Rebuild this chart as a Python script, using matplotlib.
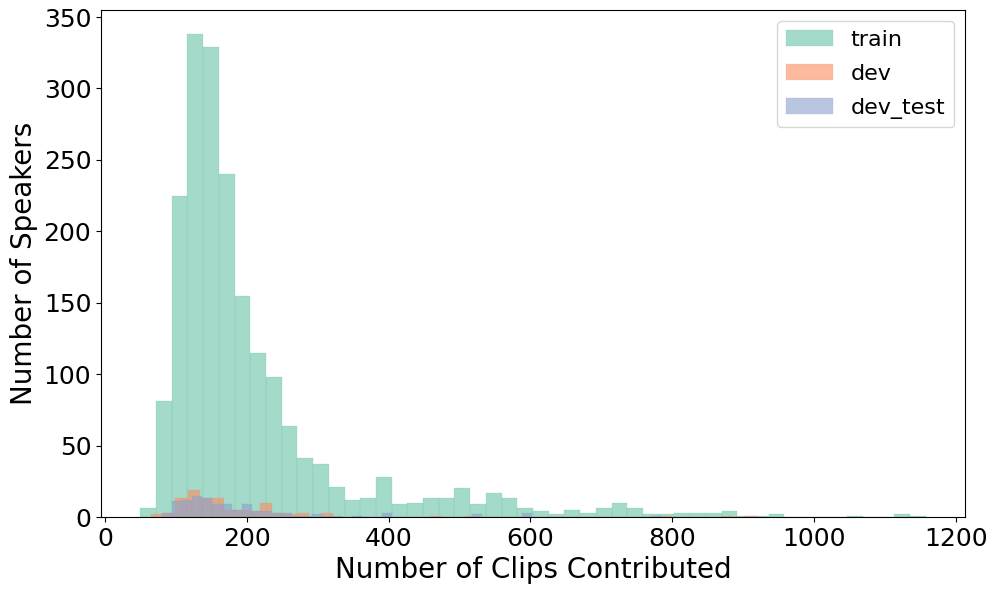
import numpy as np
import matplotlib
matplotlib.use("Agg")
import matplotlib.pyplot as plt

# speakers per bin (50 bins each)
train_range = (49.5, 1158.0)
train_counts = [6, 81, 225, 338, 329, 240, 155, 115, 98, 64,
                41, 37, 21, 12, 13, 28, 9, 10, 13, 13,
                20, 9, 17, 13, 6, 4, 2, 5, 3, 6,
                10, 6, 2, 2, 3, 3, 3, 4, 1, 1,
                2, 0, 0, 0, 0, 1, 0, 0, 2, 1]

dev_range = (65.0, 920.0)
dev_counts = [2, 3, 13, 19, 13, 13, 5, 5, 4, 10,
              3, 2, 3, 0, 3, 0, 0, 0, 0, 0,
              0, 0, 0, 1, 0, 0, 1, 0, 0, 0,
              0, 0, 0, 0, 0, 0, 0, 0, 0, 0,
              0, 0, 1, 0, 0, 0, 0, 1, 0, 1]

dev_test_range = (80.0, 785.0)
dev_test_counts = [3, 11, 12, 15, 13, 9, 9, 5, 9, 4,
                   4, 3, 3, 1, 1, 2, 1, 1, 0, 1,
                   0, 0, 3, 0, 0, 0, 0, 0, 0, 0,
                   0, 2, 0, 0, 0, 0, 3, 0, 0, 0,
                   0, 0, 0, 0, 0, 0, 0, 0, 0, 1]

series = [("train", train_range, train_counts, "#66c2a5"),
          ("dev", dev_range, dev_counts, "#fc8d62"),
          ("dev_test", dev_test_range, dev_test_counts, "#8da0cb")]

fig = plt.figure(figsize=(9.97, 5.94), dpi=100)
ax = fig.add_axes([0.1013, 0.1296, 0.8667, 0.8535])

for name, (lo, hi), counts, color in series:
    edges = np.linspace(lo, hi, len(counts) + 1)
    centers = (edges[:-1] + edges[1:]) / 2
    ax.hist(centers, bins=edges, weights=counts, color=color, alpha=0.6,
            edgecolor=color, linewidth=0.2, label=name)

ax.set_xticks(range(0, 1201, 200))
ax.set_yticks(range(0, 351, 50))
ax.tick_params(labelsize=18)
ax.set_xlabel("Number of Clips Contributed", fontsize=20)
ax.set_ylabel("Number of Speakers", fontsize=20)
ax.legend(loc="upper right", fontsize=16, labelspacing=0.62, handlelength=2.1)

fig.savefig("out.png", dpi=100)
